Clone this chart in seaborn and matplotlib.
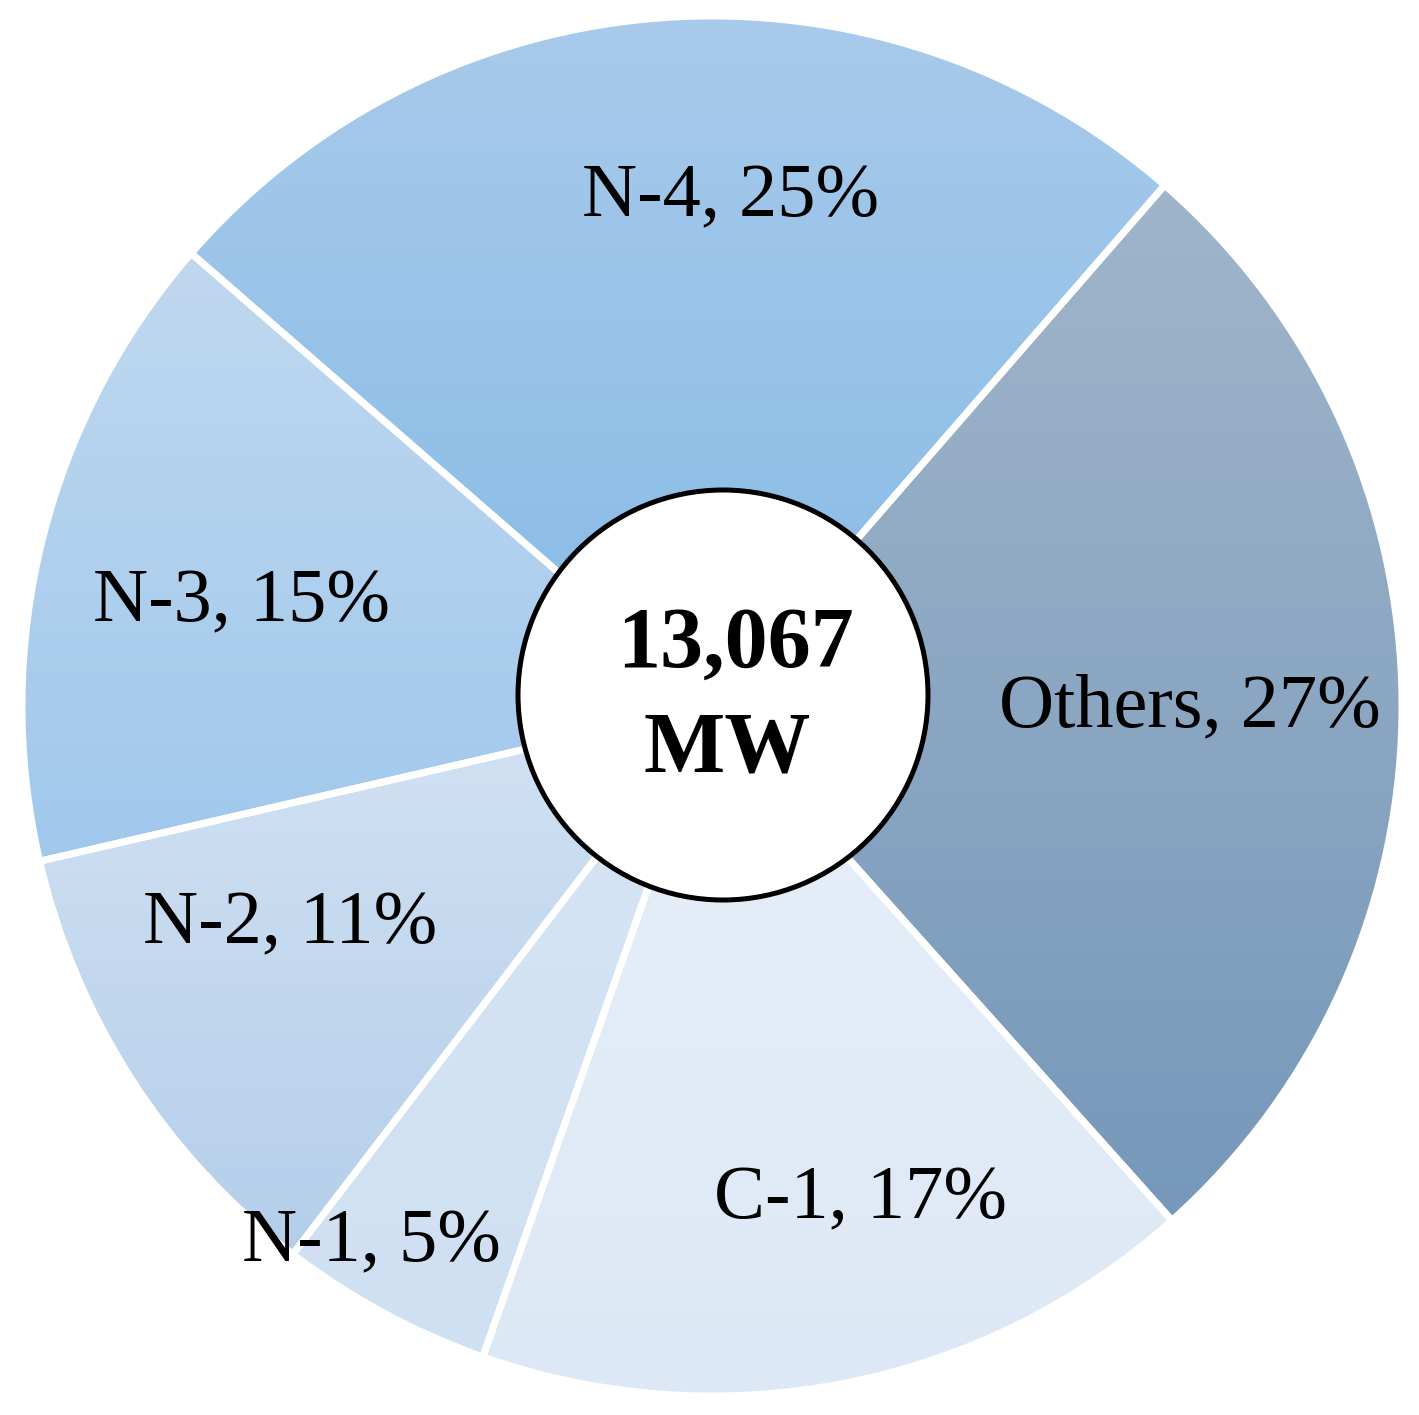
import numpy as np
import matplotlib
matplotlib.use("Agg")
import matplotlib.pyplot as plt
import seaborn as sns
from matplotlib.patches import Circle

# ---- data ----
categories = ["Others", "C-1", "N-1", "N-2", "N-3", "N-4"]
shares = [27, 17, 5, 11, 15, 25]
total_label = ["13,067", "MW"]
top_colors = ["#A0B5CA", "#E8F0F9", "#D6E5F4", "#D2E2F3", "#C0D8EF", "#A8CAEB"]
bottom_colors = ["#7698BA", "#DCE8F5", "#CFE0F2", "#B4CEEA", "#A0C8EC", "#86BBE6"]
# label anchor positions (pixels in the figure)
label_px = [(1190, 708), (861, 1200), (371, 1243), (290, 925), (241, 603), (731, 198)]

sns.set_theme(style="white")
plt.rcParams["font.family"] = ["Liberation Serif", "DejaVu Serif"]
plt.rcParams["text.color"] = "black"

W, H = 1419, 1415
fig = plt.figure(figsize=(W / 100, H / 100), dpi=100)
ax = fig.add_axes([0, 0, 1, 1])

cx, cy, R = 712, 706, 690.0
xlim = (-cx / R, (W - cx) / R)
ylim = (-(H - cy) / R, cy / R)

def px2data(px, py):
    return (px - cx) / R, (cy - py) / R

wedges, _ = ax.pie(shares, startangle=49, counterclock=False, radius=1.0,
                   colors=top_colors,
                   wedgeprops=dict(edgecolor="white", linewidth=5))

for w, ct, cb in zip(wedges, top_colors, bottom_colors):
    ext = w.get_path().get_extents()
    c1 = np.array(matplotlib.colors.to_rgb(ct))
    c2 = np.array(matplotlib.colors.to_rgb(cb))
    t = np.linspace(0, 1, 256)[:, None]
    grad = (c1[None, :] * (1 - t) + c2[None, :] * t)[:, None, :]
    im = ax.imshow(grad, extent=[ext.x0, ext.x1, ext.y0, ext.y1], origin="upper",
                   aspect="auto", interpolation="bilinear", zorder=1)
    im.set_clip_path(w)
    w.set_facecolor("none")
    w.set_zorder(2)

for name, s, (lx, ly) in zip(categories, shares, label_px):
    x, y = px2data(lx, ly)
    ax.text(x, y, f"{name}, {s}%", ha="center", va="center", fontsize=55,
            color="black", zorder=5)

ccx, ccy = px2data(723, 695)
ax.add_patch(Circle((ccx, ccy), 205 / R, facecolor="white", edgecolor="black",
                    linewidth=3.6, zorder=4))
x1, y1 = px2data(736, 646)
ax.text(x1, y1, total_label[0], ha="center", va="center", fontsize=62,
        fontweight="bold", color="black", zorder=5)
x2, y2 = px2data(727, 751)
ax.text(x2, y2, total_label[1], ha="center", va="center", fontsize=62,
        fontweight="bold", color="black", zorder=5)

ax.set_xlim(*xlim)
ax.set_ylim(*ylim)
ax.set_aspect("auto")
ax.axis("off")
fig.savefig("out.png", dpi=100, facecolor="white")
